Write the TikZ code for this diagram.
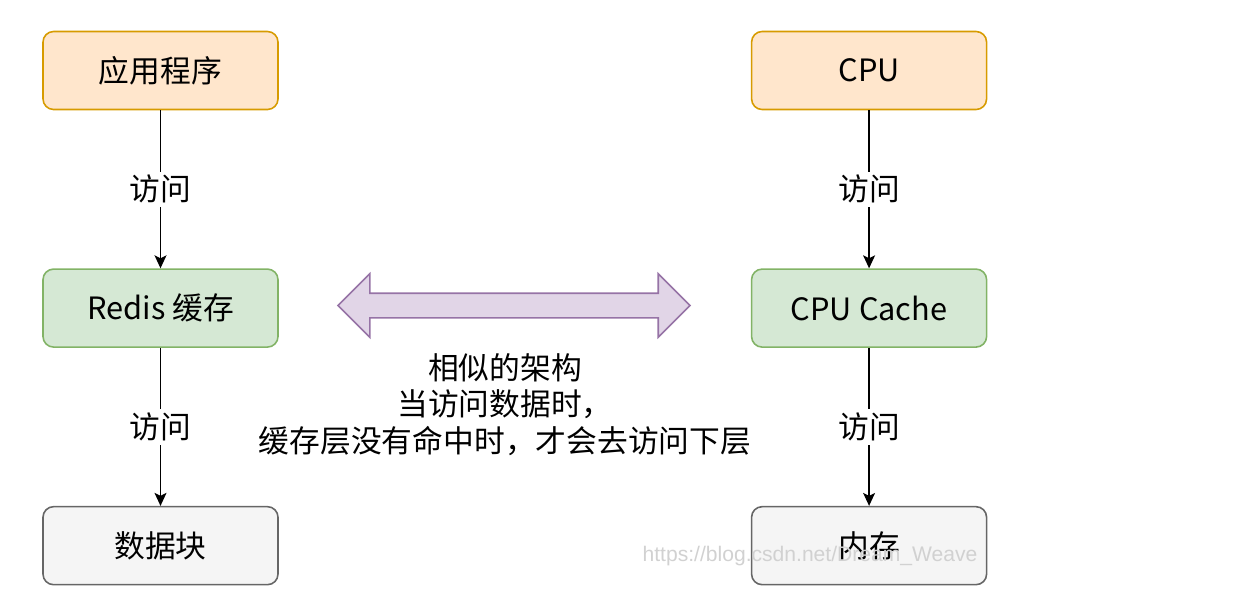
\documentclass[tikz,border=0pt]{standalone}
\usepackage{fontspec}
\setmainfont{Noto Sans CJK SC}
\newfontfamily\wmfont{Liberation Sans}
\usepackage{tikz}
\usetikzlibrary{positioning,arrows.meta,shapes.arrows}

\definecolor{topfill}{HTML}{FFE6CC}
\definecolor{topline}{HTML}{D79B00}
\definecolor{midfill}{HTML}{D5E8D4}
\definecolor{midline}{HTML}{82B366}
\definecolor{lowfill}{HTML}{F5F5F5}
\definecolor{lowline}{HTML}{666666}
\definecolor{simfill}{HTML}{E1D5E7}
\definecolor{simline}{HTML}{9673A6}

\begin{document}
\begin{tikzpicture}[
  box/.style={draw, rounded corners=6pt, line width=0.9pt, minimum width=4.7cm, minimum height=1.56cm, align=center, font=\fontsize{17.5}{21}\selectfont, inner sep=0pt},
  appbox/.style={box, fill=topfill, draw=topline},
  cachebox/.style={box, fill=midfill, draw=midline},
  storebox/.style={box, fill=lowfill, draw=lowline},
  arr/.style={-{Stealth[length=2.6mm, width=2.4mm, inset=0.6mm]}, line width=0.7pt},
  lbl/.style={font=\fontsize{17.5}{21}\selectfont, fill=white, inner sep=2pt}
]
\useasboundingbox (0,0) rectangle (24.98,-12.18);

% left column: redis
\node[appbox] (app) at (3.21,-1.41) {应用程序};
\node[cachebox, below=3.16cm of app] (redis) {Redis 缓存};
\node[storebox, below=3.16cm of redis] (blk) {数据块};

% right column: cpu
\node[appbox, right=9.44cm of app] (cpu) {CPU};
\node[cachebox, below=3.16cm of cpu] (cpucache) {CPU Cache};
\node[storebox, below=3.16cm of cpucache] (mem) {内存};

\draw[arr] (app.south) -- (redis.north) node[lbl, midway] {访问};
\draw[arr] (redis.south) -- (blk.north) node[lbl, midway] {访问};
\draw[arr] (cpu.south) -- (cpucache.north) node[lbl, midway] {访问};
\draw[arr] (cpucache.south) -- (mem.north) node[lbl, midway] {访问};

% similar architecture
\node[double arrow, draw=simline, fill=simfill, line width=0.9pt, minimum height=7.04cm, minimum width=1.24cm, inner sep=0.23cm, double arrow head extend=0.39cm] (sim) at (10.28,-6.11) {};
\node[align=center, font=\fontsize{17.5}{20.7}\selectfont] (simtxt) at (10.1,-8.09) {相似的架构\\当访问数据时，\\缓存层没有命中时，才会去访问下层};

\node[font=\wmfont\fontsize{12}{14}\selectfont, text=black!18] (wm) at (16.2,-11.12) {https://blog.csdn.net/Dream\_Weave};
\end{tikzpicture}
\end{document}
